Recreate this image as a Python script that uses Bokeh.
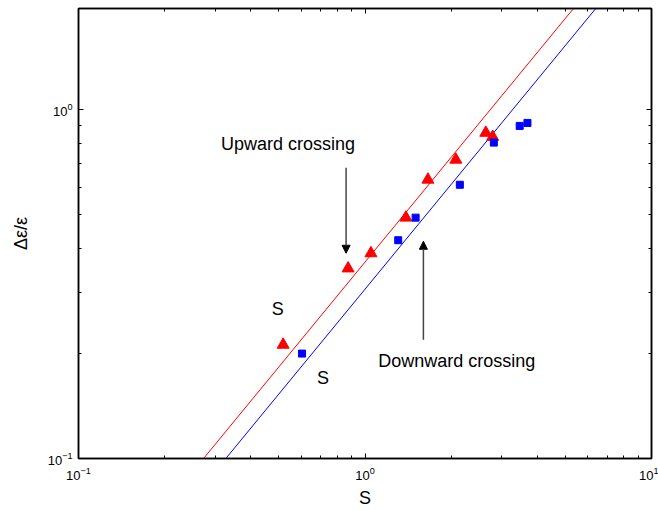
import numpy as np
from bokeh.plotting import figure
from bokeh.models import Arrow, NormalHead, LogAxis, FixedTicker, LogTickFormatter, Label
from bokeh.embed import file_html
from bokeh.resources import INLINE

# Data
up_x = [0.518, 0.873, 1.049, 1.389, 1.658, 2.075, 2.64, 2.79]
up_y = [0.212, 0.351, 0.388, 0.491, 0.631, 0.720, 0.860, 0.837]
down_x = [0.603, 1.306, 1.502, 2.143, 2.816, 3.467, 3.69]
down_y = [0.200, 0.423, 0.491, 0.610, 0.806, 0.900, 0.918]
fit_x = [0.1, 10.0]
up_coef = 0.366
down_coef = 0.306
major_ticks = [0.1, 1.0, 10.0]
minor_ticks = [m * d for d in (0.1, 1.0) for m in range(2, 10)]

FONT = "Liberation Sans"

def ticker():
    return FixedTicker(ticks=major_ticks, minor_ticks=minor_ticks)

p = figure(width=658, height=510, x_axis_type="log", y_axis_type="log",
           x_range=(0.1, 10), y_range=(0.1, 1.955),
           output_backend="svg", toolbar_location=None,
           min_border_left=78, min_border_right=7, min_border_top=8, min_border_bottom=50)

p.grid.visible = False
p.outline_line_color = "black"
p.outline_line_width = 1.5
p.background_fill_color = "white"
p.border_fill_color = "white"

fx = np.array(fit_x)
p.line(fx, up_coef * fx, line_color="#ff0000", line_width=1)
p.line(fx, down_coef * fx, line_color="#0000ff", line_width=1)
p.scatter(up_x, up_y, marker="triangle", size=12, fill_color="#ff0000", line_color="#ff0000")
p.scatter(down_x, down_y, marker="square", size=7, fill_color="#0000ff", line_color="#0000ff")

for ax in [p.xaxis[0], p.yaxis[0]]:
    ax.ticker = ticker()
    ax.formatter = LogTickFormatter()
    ax.major_tick_in = 5
    ax.major_tick_out = 0
    ax.minor_tick_in = 3
    ax.minor_tick_out = 0
    ax.axis_line_width = 1.5
    ax.major_label_text_font = FONT
    ax.major_label_text_font_size = "13px"
    ax.major_label_text_color = "black"
    ax.axis_label_text_font = FONT
    ax.axis_label_text_font_size = "18px"
    ax.axis_label_text_font_style = "normal"
    ax.axis_label_text_color = "black"

p.xaxis.axis_label = "S"
p.yaxis.axis_label = "Δε/ε"
p.xaxis.major_label_standoff = 8
p.yaxis.major_label_standoff = 6
p.yaxis.axis_label_standoff = 14

for side in ["above", "right"]:
    a = LogAxis(ticker=ticker(), major_tick_in=5, major_tick_out=0,
                minor_tick_in=3, minor_tick_out=0, axis_line_width=1.5)
    a.major_label_text_alpha = 0
    a.major_label_text_font_size = "1px"
    a.major_label_standoff = 0
    p.add_layout(a, side)

p.add_layout(Arrow(end=NormalHead(size=8, fill_color="black", line_color="black"),
                   x_start=0.859, y_start=0.683, x_end=0.859, y_end=0.388,
                   line_color="#444444", line_width=1.5))
p.add_layout(Arrow(end=NormalHead(size=8, fill_color="black", line_color="black"),
                   x_start=1.599, y_start=0.219, x_end=1.599, y_end=0.42,
                   line_color="#444444", line_width=1.5))

def lab(x, y, t):
    p.add_layout(Label(x=x, y=y, text=t, text_font=FONT, text_font_size="18px",
                       text_align="center", text_baseline="middle", text_color="black"))

lab(0.539, 0.80, "Upward crossing")
lab(2.092, 0.1905, "Downward crossing")
lab(0.496, 0.269, "S")
lab(0.714, 0.170, "S")

open("out.html", "w").write(file_html(p, INLINE))
